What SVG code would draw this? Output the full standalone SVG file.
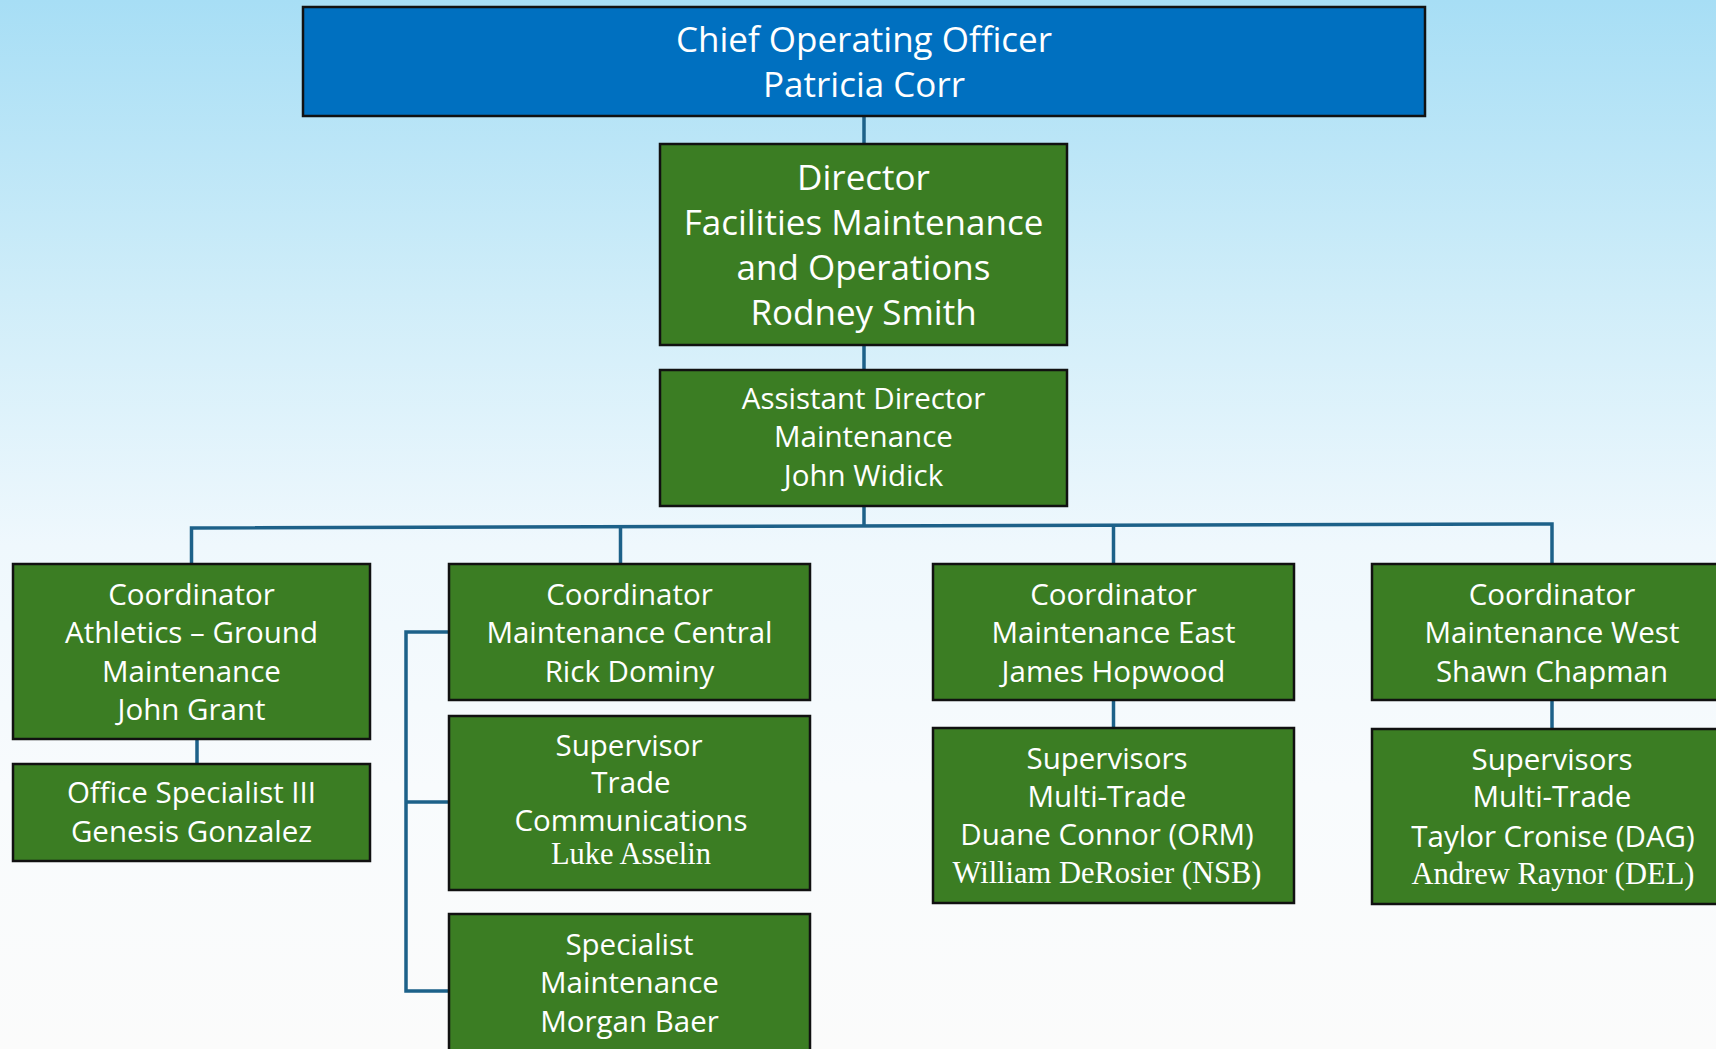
<svg xmlns="http://www.w3.org/2000/svg" width="1716" height="1049" viewBox="0 0 1716 1049">
<defs>
<linearGradient id="bg" x1="0" y1="0" x2="0" y2="1">
<stop offset="0" stop-color="#A7DEF5"/>
<stop offset="0.28" stop-color="#CFEDF9"/>
<stop offset="0.52" stop-color="#EFF8FD"/>
<stop offset="0.75" stop-color="#F8FBFD"/>
<stop offset="1" stop-color="#FBFBFB"/>
</linearGradient>
<style>
.box{fill:#3B7D23;stroke:#111;stroke-width:2.5}
.blue{fill:#0070C0;stroke:#111;stroke-width:2.5}
.t{font-family:"Open Sans","Noto Sans","Liberation Sans",sans-serif;fill:#fff;text-anchor:middle}
.l{font-size:35px}
.m{font-size:29.5px}
.s{font-family:"Liberation Serif","DejaVu Serif",serif;font-size:30.5px;fill:#fff;text-anchor:middle}
.c{fill:none;stroke:#1D6189;stroke-width:3.5}
</style>
</defs>
<rect width="1716" height="1049" fill="url(#bg)"/>
<g id="connectors">
<line class="c" x1="864" y1="116" x2="864" y2="144"/>
<line class="c" x1="864" y1="345" x2="864" y2="370"/>
<line class="c" x1="864" y1="506" x2="864" y2="527"/>
<polyline class="c" points="191.5,565 191.5,528 1552,524 1552,565"/>
<line class="c" x1="620.5" y1="527" x2="620.5" y2="565"/>
<line class="c" x1="1113.5" y1="525" x2="1113.5" y2="565"/>
<line class="c" x1="197" y1="739" x2="197" y2="765"/>
<line class="c" x1="1113.5" y1="700" x2="1113.5" y2="728"/>
<line class="c" x1="1552" y1="700" x2="1552" y2="730"/>
<polyline class="c" points="449,632 406,632 406,991 449,991"/>
<line class="c" x1="406" y1="802" x2="451" y2="802"/>
</g>
<g id="coo">
<rect class="blue" x="303" y="7" width="1122" height="109"/>
<text class="t l" x="864" y="52">Chief Operating Officer</text>
<text class="t l" x="864" y="97">Patricia Corr</text>
</g>
<g id="director">
<rect class="box" x="660" y="144" width="407" height="201"/>
<text class="t l" x="863.5" y="190">Director</text>
<text class="t l" x="863.5" y="235">Facilities Maintenance</text>
<text class="t l" x="863.5" y="280">and Operations</text>
<text class="t l" x="863.5" y="325">Rodney Smith</text>
</g>
<g id="asst-director">
<rect class="box" x="660" y="370" width="407" height="136"/>
<text class="t m" x="863.5" y="409">Assistant Director</text>
<text class="t m" x="863.5" y="447">Maintenance</text>
<text class="t m" x="863.5" y="486">John Widick</text>
</g>
<g id="coord-athletics">
<rect class="box" x="13" y="564" width="357" height="175"/>
<text class="t m" x="191.5" y="605">Coordinator</text>
<text class="t m" x="191.5" y="643">Athletics – Ground</text>
<text class="t m" x="191.5" y="682">Maintenance</text>
<text class="t m" x="191.5" y="720">John Grant</text>
</g>
<g id="office-specialist">
<rect class="box" x="13" y="764" width="357" height="97"/>
<text class="t m" x="191.5" y="803">Office Specialist III</text>
<text class="t m" x="191.5" y="842">Genesis Gonzalez</text>
</g>
<g id="coord-central">
<rect class="box" x="449" y="564" width="361" height="136"/>
<text class="t m" x="629.5" y="605">Coordinator</text>
<text class="t m" x="629.5" y="643">Maintenance Central</text>
<text class="t m" x="629.5" y="682">Rick Dominy</text>
</g>
<g id="supervisor-trade">
<rect class="box" x="449" y="716" width="361" height="174"/>
<text class="t m" x="629" y="756">Supervisor</text>
<text class="t m" x="631" y="793">Trade</text>
<text class="t m" x="631" y="831">Communications</text>
<text class="s" x="631" y="864">Luke Asselin</text>
</g>
<g id="specialist">
<rect class="box" x="449" y="914" width="361" height="150"/>
<text class="t m" x="629.5" y="955">Specialist</text>
<text class="t m" x="629.5" y="993">Maintenance</text>
<text class="t m" x="629.5" y="1032">Morgan Baer</text>
</g>
<g id="coord-east">
<rect class="box" x="933" y="564" width="361" height="136"/>
<text class="t m" x="1113.5" y="605">Coordinator</text>
<text class="t m" x="1113.5" y="643">Maintenance East</text>
<text class="t m" x="1113.5" y="682">James Hopwood</text>
</g>
<g id="supervisors-east">
<rect class="box" x="933" y="728" width="361" height="175"/>
<text class="t m" x="1107" y="769">Supervisors</text>
<text class="t m" x="1107" y="807">Multi-Trade</text>
<text class="t m" x="1107" y="845">Duane Connor (ORM)</text>
<text class="s" x="1107" y="883">William DeRosier (NSB)</text>
</g>
<g id="coord-west">
<rect class="box" x="1372" y="564" width="360" height="136"/>
<text class="t m" x="1552" y="605">Coordinator</text>
<text class="t m" x="1552" y="643">Maintenance West</text>
<text class="t m" x="1552" y="682">Shawn Chapman</text>
</g>
<g id="supervisors-west">
<rect class="box" x="1372" y="729" width="360" height="175"/>
<text class="t m" x="1552" y="770">Supervisors</text>
<text class="t m" x="1552" y="807">Multi-Trade</text>
<text class="t m" x="1553" y="847">Taylor Cronise (DAG)</text>
<text class="s" x="1553" y="884">Andrew Raynor (DEL)</text>
</g>
</svg>
